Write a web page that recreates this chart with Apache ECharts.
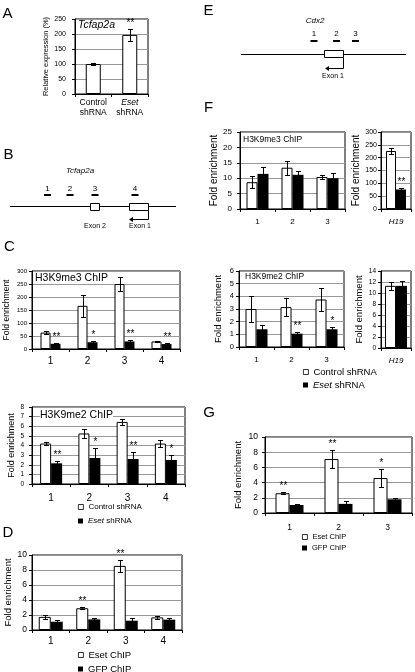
<!DOCTYPE html>
<html><head><meta charset="utf-8">
<script src="https://cdn.jsdelivr.net/npm/echarts@6/dist/echarts.min.js"></script>
<style>html,body{margin:0;padding:0;background:#fff}#c{width:415px;height:672px}</style>
</head><body><div id="c"></div>
<script>
// ---------------- data ----------------
const aCategories = ['Control shRNA', 'Eset shRNA'];
const aExpression = [100, 197];
const aExpressionErr = [4.5, 21];
const aStars = ['', '**'];

const tcfRegions = ['1', '2', '3', '4'];
const cMe3Control = [63, 166, 250, 29];
const cMe3ControlErr = [7, 43, 28, 1.5];
const cMe3Eset = [20, 26, 29, 19];
const cMe3EsetErr = [3, 4, 4, 3];
const cMe3Stars = ['**', '*', '**', '**'];

const cMe2Control = [4.2, 5.25, 6.45, 4.2];
const cMe2ControlErr = [0.15, 0.5, 0.3, 0.4];
const cMe2Eset = [2.15, 2.7, 2.6, 2.5];
const cMe2EsetErr = [0.2, 1.05, 0.7, 0.5];
const cMe2Stars = ['**', '*', '**', '*'];

const dEsetChip = [1.75, 2.9, 8.55, 1.68];
const dEsetChipErr = [0.3, 0.15, 0.78, 0.25];
const dEsetStars = ['', '**', '**', ''];
const dGfpChip = [1.1, 1.42, 1.24, 1.38];
const dGfpChipErr = [0.28, 0.12, 0.3, 0.2];

const cdxRegions = ['1', '2', '3'];
const fMe3Control = [8.7, 13.4, 10.4];
const fMe3ControlErr = [2, 2.2, 0.5];
const fMe3Eset = [11.4, 11.1, 10.0];
const fMe3EsetErr = [2.1, 1.3, 1.8];

const h19Label = ['H19'];
const h19Me3Control = [226];
const h19Me3ControlErr = [13];
const h19Me3Eset = [76];
const h19Me3EsetErr = [4];
const h19Me3Stars = ['**'];

const fMe2Control = [3.0, 3.15, 3.75];
const fMe2ControlErr = [1.0, 0.7, 0.9];
const fMe2Eset = [1.4, 1.05, 1.4];
const fMe2EsetErr = [0.35, 0.15, 0.2];
const fMe2Stars = ['', '**', '*'];

const h19Me2Control = [11.3];
const h19Me2ControlErr = [0.7];
const h19Me2Eset = [11.3];
const h19Me2EsetErr = [0.9];

const gEsetChip = [2.6, 7.1, 4.6];
const gEsetChipErr = [0.15, 1.15, 1.2];
const gEsetStars = ['**', '**', '*'];
const gGfpChip = [1.05, 1.2, 1.8];
const gGfpChipErr = [0.1, 0.35, 0.17];

// ---------------- build ----------------
const FONT = "'Liberation Sans', Arial, sans-serif";
const grids = [], xAxes = [], yAxes = [], series = [], titles = [];

function errSeries(idx, values, errs, stars, offset) {
  return {
    type: 'custom', xAxisIndex: idx, yAxisIndex: idx, silent: true, z: 10, animation: false,
    data: values.map((v, i) => [i, v, errs[i]]),
    renderItem: function (params, api) {
      const i = api.value(0), v = api.value(1), e = api.value(2);
      const p = api.coord([i, v + e]);
      const q = api.coord([i, v - e]);
      const x = Math.round(p[0] + offset) + 0.5;
      const yt = Math.round(p[1]) + 0.5, yb = Math.round(q[1]) + 0.5;
      const st = { stroke: '#000', lineWidth: 1 };
      const ch = [
        { type: 'line', shape: { x1: x, y1: yt, x2: x, y2: yb }, style: st },
        { type: 'line', shape: { x1: x - 2.5, y1: yt, x2: x + 2.5, y2: yt }, style: st },
        { type: 'line', shape: { x1: x - 2.5, y1: yb, x2: x + 2.5, y2: yb }, style: st }
      ];
      const s = stars ? stars[params.dataIndex] : '';
      if (s) ch.push({ type: 'text', x: x, y: yt - 1, style: { text: s, fill: '#000', fontSize: 10, fontFamily: FONT, textAlign: 'center', textVerticalAlign: 'bottom', align: 'center', verticalAlign: 'bottom' } });
      return { type: 'group', children: ch };
    }
  };
}

function panel(p) {
  const idx = grids.length;
  grids.push({ left: p.left, top: p.top, width: p.width, height: p.height, show: true, borderColor: '#000', borderWidth: 1, backgroundColor: 'transparent' });
  xAxes.push({
    type: 'category', gridIndex: idx, data: p.cats,
    axisLine: { lineStyle: { color: '#000', width: 1 } },
    axisTick: { show: true, length: 3, lineStyle: { color: '#000' } },
    axisLabel: { color: '#000', fontSize: p.xFont, fontFamily: FONT, margin: p.xMargin, interval: 0,
      fontStyle: p.xItalic ? 'italic' : 'normal', formatter: p.xFormatter, lineHeight: p.xLineHeight,
      rich: { i: { fontStyle: 'italic', fontSize: p.xFont, fontFamily: FONT, color: '#000', lineHeight: p.xLineHeight },
              n: { fontSize: p.xFont, fontFamily: FONT, color: '#000', lineHeight: p.xLineHeight } } },
    splitLine: { show: false }
  });
  yAxes.push({
    type: 'value', gridIndex: idx, min: 0, max: p.max, interval: p.interval,
    name: p.yName, nameLocation: 'middle', nameGap: p.nameGap,
    nameTextStyle: { fontSize: p.nameFont, color: '#000', fontFamily: FONT },
    axisLine: { show: true, lineStyle: { color: '#000' } },
    axisTick: { show: true, length: 3, lineStyle: { color: '#000' } },
    axisLabel: { fontSize: p.yFont, color: '#000', margin: p.yMargin, fontFamily: FONT },
    splitLine: { show: true, lineStyle: { color: '#999', width: 1 } }
  });
  const n = p.series.length;
  p.series.forEach((s, k) => {
    series.push({
      name: s.name, type: 'bar', xAxisIndex: idx, yAxisIndex: idx, data: s.values,
      barWidth: p.barWidth, barGap: '0%', animation: false, silent: true,
      itemStyle: s.black ? { color: '#000' } : { color: '#fff', borderColor: '#000', borderWidth: 1 }
    });
    const offset = (k - (n - 1) / 2) * p.barWidth;
    series.push(errSeries(idx, s.values, s.errs, s.stars, offset));
  });
  if (p.title) titles.push({
    text: p.title, left: p.titleLeft, top: p.titleTop, padding: 0, backgroundColor: '#fff',
    textStyle: { fontSize: p.titleFont, fontWeight: 'normal', fontStyle: p.titleItalic ? 'italic' : 'normal', color: '#000', fontFamily: FONT }
  });
}

// A
panel({ left: 75, top: 19, width: 73, height: 75, cats: aCategories, max: 250, interval: 50,
  xFont: 8.5, xMargin: 4, xLineHeight: 10,
  xFormatter: v => v.indexOf('Eset') === 0 ? '{i|Eset}\n{n|shRNA}' : '{n|Control}\n{n|shRNA}',
  yFont: 7, yMargin: 9, yName: 'Relative expression (%)', nameGap: 25, nameFont: 7.5, barWidth: 15,
  series: [{ name: 'Relative expression', values: aExpression, errs: aExpressionErr, stars: aStars }],
  title: 'Tcfap2a', titleItalic: true, titleFont: 10.5, titleLeft: 78, titleTop: 20 });
// C top
panel({ left: 32, top: 271, width: 148, height: 78, cats: tcfRegions, max: 300, interval: 50,
  xFont: 10, xMargin: 7, yFont: 6, yMargin: 5, yName: 'Fold enrichment', nameGap: 21, nameFont: 8.5, barWidth: 10,
  series: [{ name: 'Control shRNA', values: cMe3Control, errs: cMe3ControlErr },
           { name: 'Eset shRNA', values: cMe3Eset, errs: cMe3EsetErr, stars: cMe3Stars, black: true }],
  title: 'H3K9me3 ChIP', titleFont: 10.5, titleLeft: 35, titleTop: 273 });
// C bottom
panel({ left: 32, top: 407, width: 153, height: 77, cats: tcfRegions, max: 8, interval: 1,
  xFont: 10, xMargin: 9, yFont: 6.5, yMargin: 8, yName: 'Fold enrichment', nameGap: 14, nameFont: 9, barWidth: 11,
  series: [{ name: 'Control shRNA', values: cMe2Control, errs: cMe2ControlErr },
           { name: 'Eset shRNA', values: cMe2Eset, errs: cMe2EsetErr, stars: cMe2Stars, black: true }],
  title: 'H3K9me2 ChIP', titleFont: 10.5, titleLeft: 40, titleTop: 409.5 });
// D
panel({ left: 32, top: 555, width: 150, height: 75, cats: tcfRegions, max: 10, interval: 2,
  xFont: 10, xMargin: 6, yFont: 8.5, yMargin: 5, yName: 'Fold enrichment', nameGap: 17, nameFont: 9.5, barWidth: 12,
  series: [{ name: 'Eset ChIP', values: dEsetChip, errs: dEsetChipErr, stars: dEsetStars },
           { name: 'GFP ChIP', values: dGfpChip, errs: dGfpChipErr, black: true }] });
// F top
panel({ left: 240, top: 132, width: 105, height: 77, cats: cdxRegions, max: 25, interval: 5,
  xFont: 8, xMargin: 9, yFont: 8, yMargin: 8, yName: 'Fold enrichment', nameGap: 18, nameFont: 10, barWidth: 11,
  series: [{ name: 'Control shRNA', values: fMe3Control, errs: fMe3ControlErr },
           { name: 'Eset shRNA', values: fMe3Eset, errs: fMe3EsetErr, black: true }],
  title: 'H3K9me3 ChIP', titleFont: 8.5, titleLeft: 243, titleTop: 135 });
panel({ left: 381, top: 132, width: 30, height: 77, cats: h19Label, max: 300, interval: 50,
  xFont: 8, xItalic: true, xMargin: 9, yFont: 7, yMargin: 4, yName: 'Fold enrichment', nameGap: 17, nameFont: 10, barWidth: 10,
  series: [{ name: 'Control shRNA', values: h19Me3Control, errs: h19Me3ControlErr },
           { name: 'Eset shRNA', values: h19Me3Eset, errs: h19Me3EsetErr, stars: h19Me3Stars, black: true }] });
// F bottom
panel({ left: 239, top: 271, width: 105, height: 76, cats: cdxRegions, max: 6, interval: 1,
  xFont: 8, xMargin: 8.5, yFont: 7.5, yMargin: 5, yName: 'Fold enrichment', nameGap: 16, nameFont: 9.5, barWidth: 11,
  series: [{ name: 'Control shRNA', values: fMe2Control, errs: fMe2ControlErr },
           { name: 'Eset shRNA', values: fMe2Eset, errs: fMe2EsetErr, stars: fMe2Stars, black: true }],
  title: 'H3K9me2 ChIP', titleFont: 8.5, titleLeft: 245, titleTop: 272 });
panel({ left: 381, top: 271, width: 30, height: 77, cats: h19Label, max: 14, interval: 2,
  xFont: 8, xItalic: true, xMargin: 9, yFont: 6.5, yMargin: 5, yName: 'Fold enrichment', nameGap: 12, nameFont: 9.5, barWidth: 11,
  series: [{ name: 'Control shRNA', values: h19Me2Control, errs: h19Me2ControlErr },
           { name: 'Eset shRNA', values: h19Me2Eset, errs: h19Me2EsetErr, black: true }] });
// G
panel({ left: 265, top: 437, width: 147, height: 76, cats: cdxRegions, max: 10, interval: 2,
  xFont: 8.5, xMargin: 10, yFont: 8.5, yMargin: 7, yName: 'Fold enrichment', nameGap: 22, nameFont: 9.5, barWidth: 14,
  series: [{ name: 'Eset ChIP', values: gEsetChip, errs: gEsetChipErr, stars: gEsetStars },
           { name: 'GFP ChIP', values: gGfpChip, errs: gGfpChipErr, black: true }] });

// legends (one component per entry so nothing wraps near the page edge)
function legendItem(name, black, left, top, fontSize) {
  return {
    orient: 'vertical', left: left, top: top, padding: 0, itemWidth: 5, itemHeight: 5,
    icon: 'rect', selectedMode: false,
    data: [black ? { name: name, itemStyle: { color: '#000', borderWidth: 0 } }
                 : { name: name, itemStyle: { color: '#fff', borderColor: '#000', borderWidth: 0.8 } }],
    formatter: n => n === 'Eset shRNA' ? '{i|Eset} shRNA' : n,
    textStyle: { fontSize: fontSize, color: '#000', fontFamily: FONT,
      rich: { i: { fontStyle: 'italic', fontSize: fontSize, fontFamily: FONT, color: '#000' } } }
  };
}
const legends = [
  legendItem('Control shRNA', false, 78, 503, 8),
  legendItem('Eset shRNA', true, 78, 517, 8),
  legendItem('Eset ChIP', false, 78, 650, 9.5),
  legendItem('GFP ChIP', true, 78, 664, 9.5),
  legendItem('Control shRNA', false, 303, 367, 9.5),
  legendItem('Eset shRNA', true, 303, 380, 9.5),
  legendItem('Eset ChIP', false, 302, 533, 7.5),
  legendItem('GFP ChIP', true, 302, 544, 7.5)
];

// graphic: panel letters and gene diagrams
const graphic = [];
function txt(x, y, t, size, italic, align) {
  graphic.push({ type: 'text', x: x, y: y, silent: true,
    style: { text: t, fontSize: size, fontFamily: FONT, fill: '#000', fontStyle: italic ? 'italic' : 'normal',
      textAlign: align || 'center', textVerticalAlign: 'middle', align: align || 'center', verticalAlign: 'middle' } });
}
function line(x1, y1, x2, y2, w) {
  graphic.push({ type: 'line', silent: true, shape: { x1, y1, x2, y2 }, style: { stroke: '#000', lineWidth: w || 1 } });
}
function box(x, y, w, h, fill) {
  graphic.push({ type: 'rect', silent: true, shape: { x, y, width: w, height: h }, style: { fill: fill || '#fff', stroke: fill ? null : '#000', lineWidth: 1 } });
}
function arrowHead(x, y) {
  graphic.push({ type: 'polygon', silent: true, shape: { points: [[x, y], [x + 4, y - 2.5], [x + 4, y + 2.5]] }, style: { fill: '#000' } });
}
[['A', 7.5, 14], ['B', 8.5, 155], ['C', 9.5, 246.5], ['D', 8, 533], ['E', 208.5, 10.5], ['F', 208.5, 107.5], ['G', 209, 412.5]]
  .forEach(l => txt(l[1], l[2], l[0], 15, false, 'center'));

// B diagram (Tcfap2a)
txt(80, 171, 'Tcfap2a', 8, true);
[['1', 47.5], ['2', 70], ['3', 95], ['4', 135]].forEach(p => { txt(p[1], 189, p[0], 8); box(p[1] - 3.5, 194, 7, 2, '#000'); });
line(10, 206.5, 176, 206.5);
box(90.5, 203.5, 9, 7);
box(129.5, 203.5, 19, 7);
graphic.push({ type: 'polyline', silent: true, shape: { points: [[148.5, 210.5], [148.5, 219.5], [132, 219.5]] }, style: { stroke: '#000', fill: null, lineWidth: 1 } });
arrowHead(129, 219.5);
txt(95, 226, 'Exon 2', 7);
txt(140, 226, 'Exon 1', 7);

// E diagram (Cdx2)
txt(315, 21, 'Cdx2', 8, true);
[['1', 314], ['2', 336.5], ['3', 355.5]].forEach(p => { txt(p[1], 34, p[0], 8); box(p[1] - 3.5, 40, 7, 2, '#000'); });
line(241, 54.5, 406, 54.5);
box(324.5, 50.5, 19, 7);
graphic.push({ type: 'polyline', silent: true, shape: { points: [[343.5, 57.5], [343.5, 68.5], [328, 68.5]] }, style: { stroke: '#000', fill: null, lineWidth: 1 } });
arrowHead(325, 68.5);
txt(333, 76, 'Exon 1', 7);

const chart = echarts.init(document.getElementById('c'), null, { renderer: 'canvas', width: 415, height: 672 });
chart.setOption({
  animation: false,
  backgroundColor: '#fff',
  textStyle: { fontFamily: FONT },
  title: titles,
  legend: legends,
  grid: grids,
  xAxis: xAxes,
  yAxis: yAxes,
  series: series,
  graphic: { elements: graphic }
});
</script>
</body></html>
